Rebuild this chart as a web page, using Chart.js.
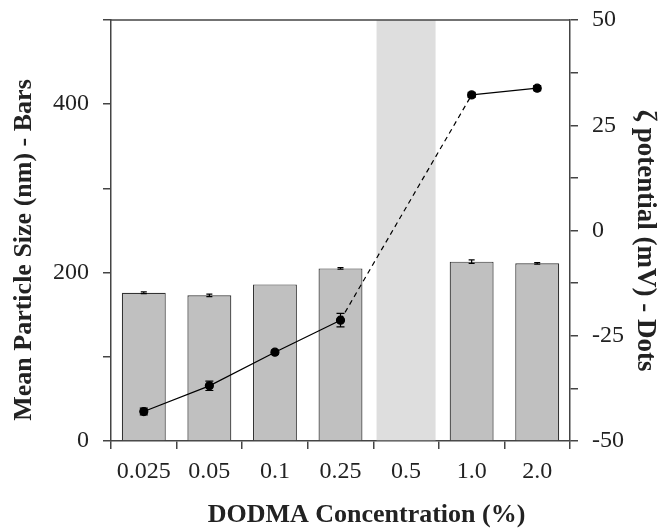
<!DOCTYPE html>
<html>
<head>
<meta charset="utf-8">
<script src="https://cdn.jsdelivr.net/npm/chart.js@4"></script>
<style>
  html, body { margin: 0; padding: 0; background: #fff; }
  #wrap { width: 667px; height: 531px; }
</style>
</head>
<body>
<div id="wrap"><canvas id="chart"></canvas></div>
<script>
const concentrations = ['0.025', '0.05', '0.1', '0.25', '0.5', '1.0', '2.0'];
const particleSize = [176, 173, 186, 205, null, 213, 211];
const particleSizeErr = [1, 1.5, 0, 1, 0, 2, 1];
const zetaPotential = [-43.0, -36.9, -28.9, -21.3, null, 32.2, 33.8];
const zetaPotentialErr = [0.8, 1.1, 0.5, 1.6, 0, 0.6, 0.6];
// the 0.5 % formulation is shaded across the full height
const excluded = [null, null, null, null, 500, null, null];

const serif = '"Liberation Serif", "Times New Roman", serif';
const axisColor = '#444';
Chart.defaults.font.family = serif;
Chart.defaults.color = '#222';

const errorBars = {
    id: 'errorBars',
    afterDatasetsDraw(chart) {
        const ctx = chart.ctx;
        ctx.save();
        ctx.strokeStyle = '#000';
        ctx.lineWidth = 1.2;
        chart.data.datasets.forEach((ds, di) => {
            if (!ds.errors) return;
            const meta = chart.getDatasetMeta(di);
            const scale = chart.scales[ds.yAxisID];
            ds.data.forEach((v, i) => {
                const e = ds.errors[i];
                if (v === null || !e) return;
                const x = meta.data[i].x;
                const y0 = scale.getPixelForValue(v - e);
                const y1 = scale.getPixelForValue(v + e);
                const w = ds.capWidth;
                ctx.beginPath();
                ctx.moveTo(x, y0); ctx.lineTo(x, y1);
                ctx.moveTo(x - w, y0); ctx.lineTo(x + w, y0);
                ctx.moveTo(x - w, y1); ctx.lineTo(x + w, y1);
                ctx.stroke();
            });
        });
        ctx.restore();
    }
};

// closes the frame along the top of the plot area
const topBorder = {
    id: 'topBorder',
    afterDraw(chart) {
        const { left, right, top } = chart.chartArea;
        const ctx = chart.ctx;
        ctx.save();
        ctx.strokeStyle = axisColor;
        ctx.lineWidth = 1.5;
        ctx.beginPath();
        ctx.moveTo(left, top);
        ctx.lineTo(right, top);
        ctx.stroke();
        ctx.restore();
    }
};

// the segment that jumps over the missing 0.5 % point is dashed
const acrossGap = ctx => (zetaPotential[ctx.p0DataIndex] === null ||
    ctx.p1DataIndex - ctx.p0DataIndex > 1 ? [5, 4] : undefined);

// fixed axis box sizes; end labels may overhang the plot area
function fitWidth(w) {
    return scale => {
        scale.width = w;
        scale.paddingTop = 0;
        scale.paddingBottom = 0;
    };
}

new Chart(document.getElementById('chart'), {
    type: 'bar',
    data: {
        labels: concentrations,
        datasets: [
            {
                type: 'line',
                data: zetaPotential,
                errors: zetaPotentialErr,
                capWidth: 4,
                yAxisID: 'y1',
                order: 1,
                borderColor: '#000',
                borderWidth: 1.2,
                pointRadius: 4,
                pointBackgroundColor: '#000',
                pointBorderColor: '#000',
                spanGaps: true,
                segment: { borderDash: acrossGap }
            },
            {
                data: particleSize,
                errors: particleSizeErr,
                capWidth: 3,
                yAxisID: 'y',
                order: 2,
                grouped: false,
                backgroundColor: '#c0c0c0',
                borderColor: '#333',
                borderWidth: 1.2,
                barPercentage: 0.67,
                categoryPercentage: 1
            },
            {
                data: excluded,
                yAxisID: 'y',
                order: 3,
                grouped: false,
                backgroundColor: '#dedede',
                borderWidth: 0,
                barPercentage: 0.9,
                categoryPercentage: 1
            }
        ]
    },
    options: {
        responsive: true,
        maintainAspectRatio: false,
        animation: false,
        layout: { padding: { top: 20, left: 0, right: 0, bottom: 0 } },
        plugins: {
            legend: { display: false },
            tooltip: { enabled: false }
        },
        scales: {
            x: {
                afterFit(scale) {
                    scale.height = 90;
                    scale.paddingLeft = 0;
                    scale.paddingRight = 0;
                },
                border: { color: axisColor, width: 1.5 },
                grid: { offset: true, drawOnChartArea: false, tickLength: 8, color: axisColor, lineWidth: 1.5 },
                ticks: { font: { size: 24 }, padding: 8, maxRotation: 0, autoSkip: false },
                title: {
                    display: true,
                    text: '        DODMA Concentration (%)',
                    font: { size: 26, weight: 'bold', lineHeight: 1.2 },
                    padding: { top: 0, bottom: 0 }
                }
            },
            y: {
                position: 'left',
                min: 0,
                max: 500,
                afterFit: fitWidth(111),
                border: { color: axisColor, width: 1.5 },
                grid: { drawOnChartArea: false, tickLength: 8, color: axisColor, lineWidth: 1.5 },
                ticks: {
                    stepSize: 100,
                    autoSkip: false,
                    padding: 14,
                    font: { size: 24 },
                    callback: v => (v % 200 === 0 ? v : '')
                },
                title: {
                    display: true,
                    text: 'Mean Particle Size (nm) - Bars      ',
                    font: { size: 26, weight: 'bold', lineHeight: 1.2 },
                    padding: { top: 9, bottom: 0 }
                }
            },
            y1: {
                position: 'right',
                min: -50,
                max: 50,
                afterFit: fitWidth(97),
                border: { color: axisColor, width: 1.5 },
                grid: { drawOnChartArea: false, tickLength: 8, color: axisColor, lineWidth: 1.5 },
                ticks: {
                    stepSize: 12.5,
                    autoSkip: false,
                    padding: 14,
                    font: { size: 24 },
                    callback: v => (v % 25 === 0 ? v : '')
                },
                title: {
                    display: true,
                    text: '   ζ potential (mV) - Dots',
                    font: { size: 27, weight: 'bold', lineHeight: 1.2 },
                    padding: { top: 6, bottom: 0 }
                }
            }
        }
    },
    plugins: [errorBars, topBorder]
});
</script>
</body>
</html>
